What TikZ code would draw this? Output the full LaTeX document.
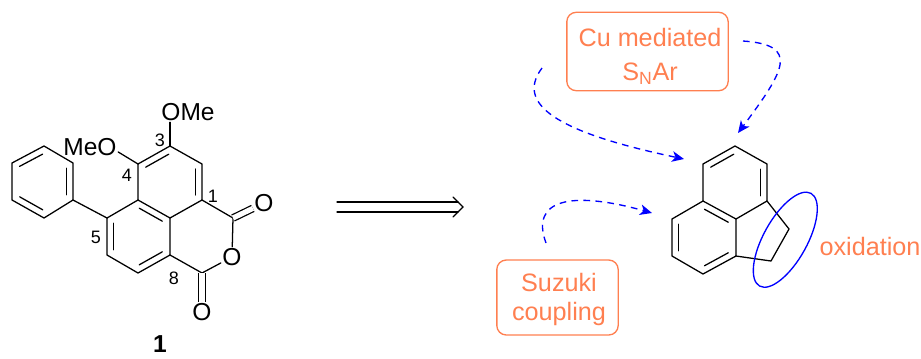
\documentclass[tikz,border=0pt]{standalone}
\usepackage{fontspec}
\setmainfont{Liberation Sans}
\usetikzlibrary{arrows.meta,calc,shapes.geometric}
\definecolor{notecoral}{HTML}{FF7F50}
\tikzset{
	bond/.style={line width=0.95pt,line cap=round},
	atom/.style={inner sep=1pt,font=\fontsize{18.4}{22}\selectfont},
	locant/.style={inner sep=0pt,font=\fontsize{13.5}{16}\selectfont},
	note/.style={text=notecoral,inner sep=0pt,align=center,font=\fontsize{18.9}{22}\selectfont},
	notebox/.style={draw=notecoral,line width=1pt,rounded corners=7pt},
	route/.style={blue,line width=1pt,dash pattern=on 5pt off 4pt,-{Stealth[length=9pt,width=8pt,inset=2.5pt]}},
}
\newcommand{\innerbond}[2]{\draw[bond] ($(#1)!.14!(#2)!4.9pt!90:(#2)$) -- ($(#2)!.14!(#1)!4.9pt!-90:(#1)$);}
\begin{document}
\begin{tikzpicture}[x=0.75pt,y=-0.75pt]
	\useasboundingbox (0,0) rectangle (921,358);
	\path(44,146)  coordinate(Pa);
	\path(12,163)  coordinate(Pb);
	\path(12,200)  coordinate(Pc);
	\path(44,218)  coordinate(Pd);
	\path(73,200)  coordinate(Pe);
	\path(73,163)  coordinate(Pf);
	\path(170,146) coordinate(C3);
	\path(138,164) coordinate(C4);
	\path(138,200) coordinate(C4a);
	\path(170,218) coordinate(Cc);
	\path(202,200) coordinate(C1);
	\path(202,164) coordinate(C2);
	\path(107,218) coordinate(C5);
	\path(107,255) coordinate(C6);
	\path(138,273) coordinate(C7);
	\path(170,255) coordinate(C8);
	\path(233,218) coordinate(Cup);
	\path(202,273) coordinate(Cdn);
	\path(188,112) node[atom](OMeTop) {OMe};
	\path(90,147)  node[atom](MeOLeft) {MeO};
	\path(232,257) node[atom](Oring) {O};
	\path(264,203) node[atom](Oup) {O};
	\path(202,312) node[atom](Odn) {O};
	\path(160,140) node[locant](L3) {3};
	\path(127,175) node[locant](L4) {4};
	\path(213,196) node[locant](L1) {1};
	\path(96,237)  node[locant](L5) {5};
	\path(174,278) node[locant](L8) {8};
	\path(160,352.5) node[atom,inner sep=0pt,anchor=base,font=\fontsize{18.4}{22}\bfseries\selectfont](Cpd) {1};
	\draw[bond] (Pa) -- (Pb) -- (Pc) -- (Pd) -- (Pe) -- (Pf) -- cycle;
	\draw[bond] (Pe) -- (C5);
	\innerbond{Pa}{Pb}
	\innerbond{Pc}{Pd}
	\innerbond{Pe}{Pf}
	\draw[bond] (C3) -- (C4) -- (C4a) -- (Cc) -- (C1) -- (C2) -- cycle;
	\draw[bond] (C4a) -- (C5) -- (C6) -- (C7) -- (C8) -- (Cc);
	\innerbond{C3}{C4}
	\innerbond{C1}{C2}
	\innerbond{Cc}{C4a}
	\innerbond{C5}{C6}
	\innerbond{C7}{C8}
	\draw[bond] (C1) -- (Cup) -- (Oring) -- (Cdn) -- (C8);
	\draw[bond] (C3) -- (OMeTop.south -| C3);
	\draw[bond] (C4) -- (MeOLeft.-10);
	\draw[bond,double,double distance=3.9pt,line cap=butt] (Cup) -- (Oup);
	\draw[bond,double,double distance=3.9pt,line cap=butt] (Cdn) -- (Odn);
	\path(337,202) coordinate(RetroA);
	\path(458,202) coordinate(RetroB);
	\path(337,212) coordinate(RetroC);
	\path(458,212) coordinate(RetroD);
	\path(453,197) coordinate(RetroE);
	\path(463,207) coordinate(RetroF);
	\path(453,217) coordinate(RetroG);
	\draw[bond] (RetroA) -- (RetroB);
	\draw[bond] (RetroC) -- (RetroD);
	\draw[bond] (RetroE) -- (RetroF) -- (RetroG);
	\path(735,146) coordinate(Ra);
	\path(703,164) coordinate(Rb);
	\path(703,201) coordinate(Rc);
	\path(736,219) coordinate(Rd);
	\path(767,201) coordinate(Re);
	\path(767,164) coordinate(Rf);
	\path(672,219) coordinate(Rg);
	\path(672,256) coordinate(Rh);
	\path(703,274) coordinate(Ri);
	\path(736,256) coordinate(Rj);
	\path(789,229) coordinate(Rk);
	\path(771,261) coordinate(Rl);
	\draw[bond] (Ra) -- (Rb) -- (Rc) -- (Rd) -- (Re) -- (Rf) -- cycle;
	\draw[bond] (Rc) -- (Rg) -- (Rh) -- (Ri) -- (Rj) -- (Rd);
	\draw[bond] (Re) -- (Rk) -- (Rl) -- (Rj);
	\innerbond{Ra}{Rb}
	\innerbond{Re}{Rf}
	\innerbond{Rd}{Rc}
	\innerbond{Rg}{Rh}
	\innerbond{Ri}{Rj}
	\path(785.3,239.7) node[draw=blue,line width=1pt,ellipse,inner sep=0pt,minimum width=79.5pt,minimum height=32.7pt,rotate=61](Ring) {};
	\path(647.5,51.5) node[notebox,minimum width=121pt,minimum height=58.8pt](CuBox) {};
	\path(650,56) node[note](CuText) {Cu mediated\\[3.5pt]S\textsubscript{N}Ar};
	\path(557.5,297.5) node[notebox,minimum width=91pt,minimum height=56.2pt](SuzukiBox) {};
	\path(559,299.5) node[note](SuzukiText) {Suzuki\\coupling};
	\path(870,255) node[note,anchor=base](Oxid) {oxidation};
	\path(542,68)  coordinate(CuStartA);
	\path(684,159) coordinate(CuEndA);
	\path(743,41)  coordinate(CuStartB);
	\path(738,133) coordinate(CuEndB);
	\path(546,243) coordinate(SuzukiStart);
	\path(652,213) coordinate(SuzukiEnd);
	\draw[route] (CuStartA) .. controls (512,108) and (570,135) .. (CuEndA);
	\draw[route] (CuStartB) .. controls (800,45) and (785,70) .. (CuEndB);
	\draw[route] (SuzukiStart) .. controls (530,200) and (570,190) .. (SuzukiEnd);
\end{tikzpicture}
\end{document}
